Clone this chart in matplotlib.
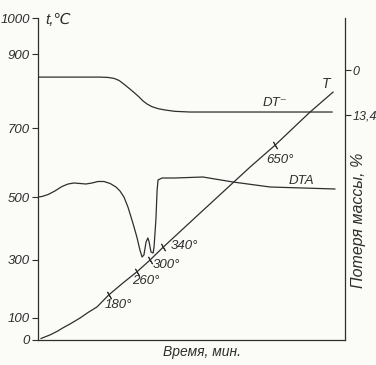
import matplotlib
matplotlib.use('Agg')
import matplotlib.pyplot as plt
import numpy as np

plt.rcParams['font.family'] = ['Liberation Sans Narrow', 'Liberation Sans', 'DejaVu Sans']
plt.rcParams['font.style'] = 'italic'

INK = '#2e2e2e'
W, H = 376, 365

# left axis: temperature ticks and the (uneven) heights they sit at on the scan
t_ticks = [0, 100, 300, 500, 700, 900, 1000]
t_pos = [0, 22, 80, 143, 212, 286, 322]

# heating curve T
time_T = [1.0, 3.9, 6.2, 8.1, 10.7, 13.7, 16.3, 19.2, 23.1, 27.7, 32.3, 36.5, 40.7,
          52.8, 69.1, 77.2, 88.6, 96.1]
temp_T = [7, 23, 39, 55, 75, 100, 119, 138, 180, 221, 260, 300, 340,
          449, 587, 650, 743, 797]

# marked points on T
mark_time = [23.1, 32.3, 36.5, 40.7, 77.2]
mark_temp = [180, 260, 300, 340, 650]

# DTA curve (relative units)
time_dta = [0.0, 1.3, 3.3, 5.5, 7.8, 9.8, 11.7, 13.7, 15.6, 17.6, 19.5, 21.5, 23.5,
            25.4, 26.7, 28.0, 29.3, 30.9, 32.2, 33.2, 33.9, 34.5, 35.2, 35.8, 36.2,
            36.8, 37.5, 37.8, 38.4, 38.8, 39.1, 40.4, 44.6, 53.7, 63.5, 75.6, 86.3, 96.7]
dta = [143, 143.5, 145.5, 149, 153.5, 156, 157, 156.5, 156, 157, 158.5, 158.5, 156.5,
       153, 149, 143, 133, 117, 103, 90, 83, 85, 98, 102, 98,
       88, 87, 93, 120, 150, 160, 162, 162, 163, 158, 153, 152, 151]

# mass loss curve, %
time_tg = [0.0, 20.2, 22.8, 24.8, 26.4, 28.0, 29.6, 31.3, 32.9, 34.2, 35.5, 37.1,
           39.1, 41.4, 44.6, 49.5, 62.5, 95.8]
mass_loss = [2.1, 2.1, 2.2, 2.5, 3.1, 4.2, 5.4, 6.7, 8.0, 9.2, 10.1, 10.9,
             11.5, 11.9, 12.3, 12.5, 12.5, 12.5]
mass_ticks = [0, 13.4]
mass_labels = ['0', '13,4']


def fwd(t):
    return np.interp(t, [-1000] + t_ticks + [2000], [-220] + t_pos + [682])


def inv(p):
    return np.interp(p, [-220] + t_pos + [682], [-1000] + t_ticks + [2000])


fig = plt.figure(figsize=(W / 100, H / 100), dpi=100, facecolor='#fbfbf8')
ax = fig.add_axes([38 / W, 25 / H, 307 / W, 322 / H])
ax.set_facecolor('none')
ax.set_yscale('function', functions=(fwd, inv))
ax.set_xlim(0, 100)
ax.set_ylim(0, 1000)
ax.set_yticks(t_ticks)
ax.set_yticklabels([str(v) for v in t_ticks])
ax.set_xticks([])
ax.tick_params(axis='y', direction='out', length=4.5, width=0.8, color=INK,
               labelsize=9.5, labelcolor=INK, pad=1.5)
for s in ['top', 'right']:
    ax.spines[s].set_visible(False)
for s in ['left', 'bottom']:
    ax.spines[s].set_color(INK)
    ax.spines[s].set_linewidth(0.9)

ax.plot(time_T, temp_T, color=INK, lw=0.9)
ax.plot(mark_time, mark_temp, ls='none', marker=(2, 2, 30), ms=6, mew=0.7, color=INK)

# mass loss axis (right)
ax2 = ax.twinx()
ax2.set_ylim(80.4, -15.5)
ax2.set_yticks(mass_ticks)
ax2.set_yticklabels(mass_labels)
ax2.tick_params(axis='y', direction='out', length=4, width=0.8, color=INK,
                labelsize=9, labelcolor=INK, pad=1.5)
for s in ['top', 'left', 'bottom']:
    ax2.spines[s].set_visible(False)
ax2.spines['right'].set_color(INK)
ax2.spines['right'].set_linewidth(0.9)
ax2.plot(time_tg, mass_loss, color=INK, lw=0.9)

# DTA on its own hidden axis
ax3 = ax.twinx()
ax3.set_ylim(0, 322)
ax3.axis('off')
ax3.plot(time_dta, dta, color=INK, lw=0.9)


def label(x, y, s, size=9.5, **kw):
    fig.text(x / W, 1 - y / H, s, fontsize=size, color=INK, ha='center', va='center', **kw)


label(58, 20, 't,℃', size=11)
label(275, 103, 'DT⁻')
label(326, 84, 'T', size=10)
label(280, 160, '650°')
label(301, 181, 'DTA')
label(184, 246, '340°')
label(166, 265, '300°')
label(146, 281, '260°')
label(118, 305, '180°')
label(202, 352, 'Время, мин.', size=10)
label(359, 220, 'Потеря массы, %', size=11.5, rotation=90)

fig.savefig('out.png', dpi=100, facecolor=fig.get_facecolor())
